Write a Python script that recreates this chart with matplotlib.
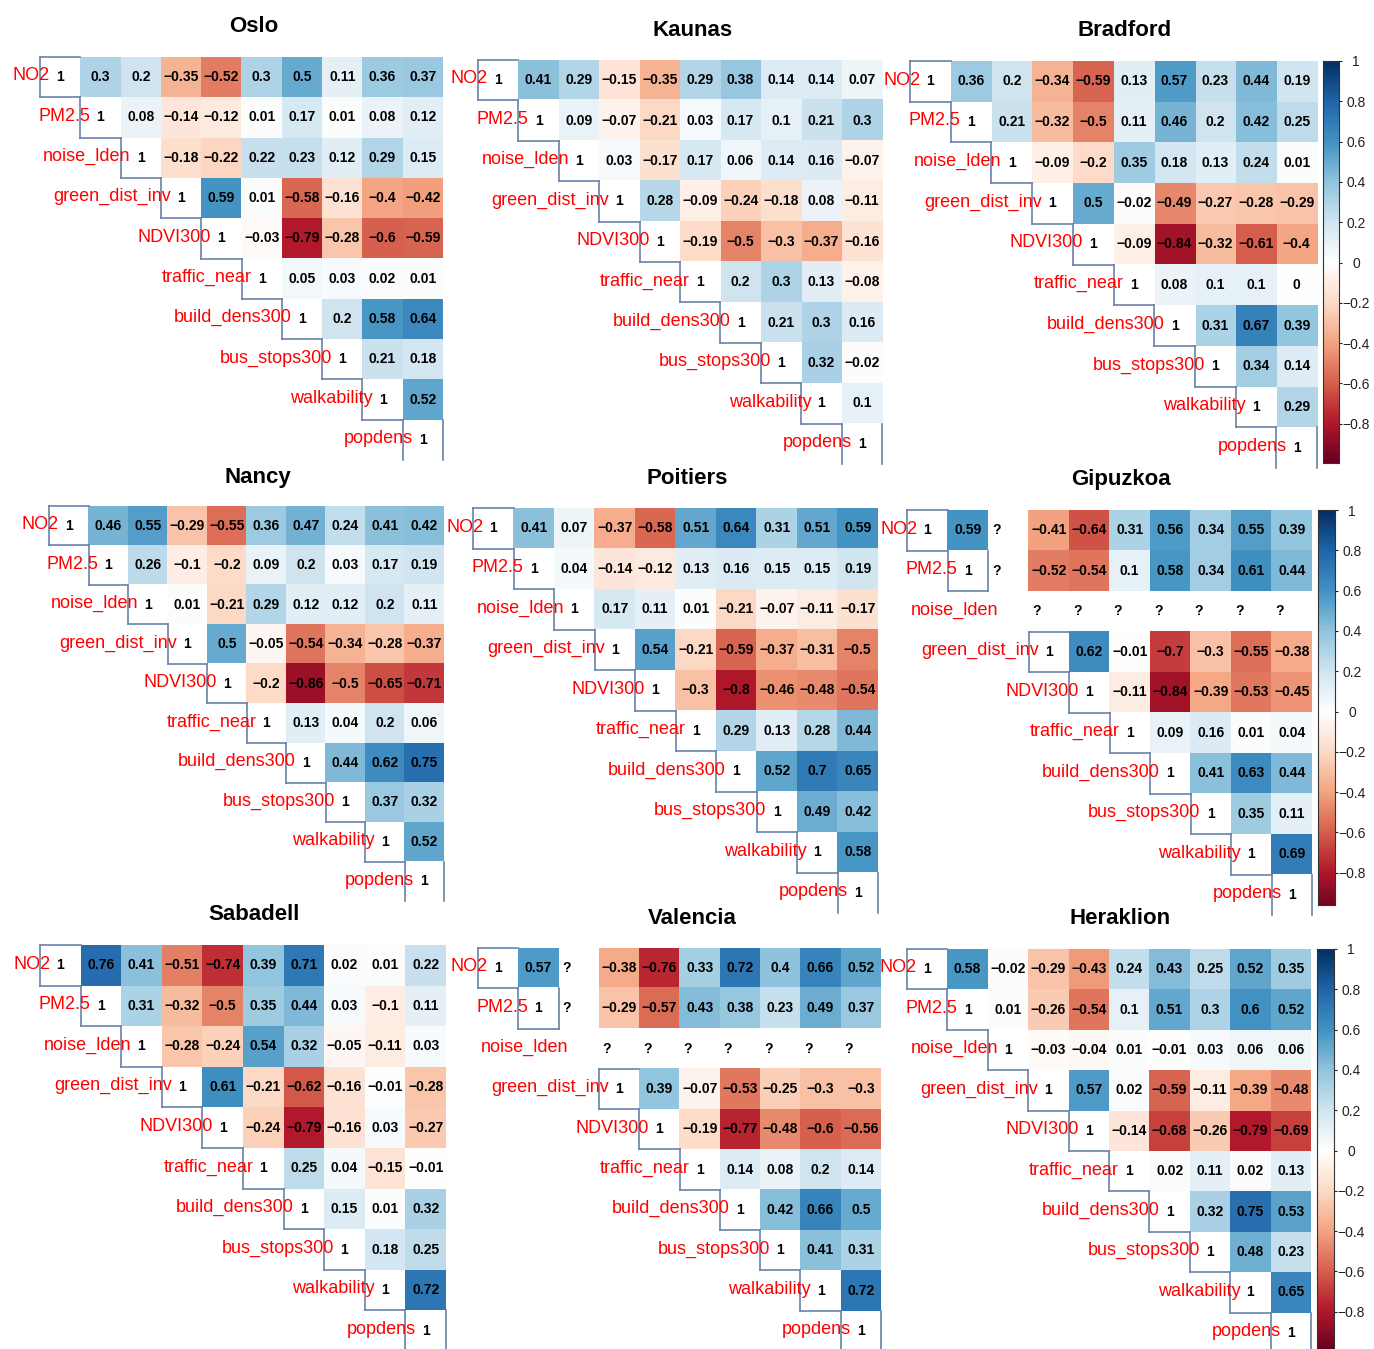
import numpy as np
import matplotlib
matplotlib.use("Agg")
import matplotlib.pyplot as plt
from matplotlib.colors import LinearSegmentedColormap

plt.rcParams["font.family"] = ["Liberation Sans", "DejaVu Sans"]

# ---------------------------------------------------------
# Data: upper triangle of each correlation matrix (row by row)
# ---------------------------------------------------------
variables = ["NO2", "PM2.5", "noise_lden", "green_dist_inv", "NDVI300",
             "traffic_near", "build_dens300", "bus_stops300", "walkability", "popdens"]
NA = np.nan

oslo = [
    [0.3, 0.2, -0.35, -0.52, 0.3, 0.5, 0.11, 0.36, 0.37],
    [0.08, -0.14, -0.12, 0.01, 0.17, 0.01, 0.08, 0.12],
    [-0.18, -0.22, 0.22, 0.23, 0.12, 0.29, 0.15],
    [0.59, 0.01, -0.58, -0.16, -0.4, -0.42],
    [-0.03, -0.79, -0.28, -0.6, -0.59],
    [0.05, 0.03, 0.02, 0.01],
    [0.2, 0.58, 0.64],
    [0.21, 0.18],
    [0.52],
]
kaunas = [
    [0.41, 0.29, -0.15, -0.35, 0.29, 0.38, 0.14, 0.14, 0.07],
    [0.09, -0.07, -0.21, 0.03, 0.17, 0.1, 0.21, 0.3],
    [0.03, -0.17, 0.17, 0.06, 0.14, 0.16, -0.07],
    [0.28, -0.09, -0.24, -0.18, 0.08, -0.11],
    [-0.19, -0.5, -0.3, -0.37, -0.16],
    [0.2, 0.3, 0.13, -0.08],
    [0.21, 0.3, 0.16],
    [0.32, -0.02],
    [0.1],
]
bradford = [
    [0.36, 0.2, -0.34, -0.59, 0.13, 0.57, 0.23, 0.44, 0.19],
    [0.21, -0.32, -0.5, 0.11, 0.46, 0.2, 0.42, 0.25],
    [-0.09, -0.2, 0.35, 0.18, 0.13, 0.24, 0.01],
    [0.5, -0.02, -0.49, -0.27, -0.28, -0.29],
    [-0.09, -0.84, -0.32, -0.61, -0.4],
    [0.08, 0.1, 0.1, 0.0],
    [0.31, 0.67, 0.39],
    [0.34, 0.14],
    [0.29],
]
nancy = [
    [0.46, 0.55, -0.29, -0.55, 0.36, 0.47, 0.24, 0.41, 0.42],
    [0.26, -0.1, -0.2, 0.09, 0.2, 0.03, 0.17, 0.19],
    [0.01, -0.21, 0.29, 0.12, 0.12, 0.2, 0.11],
    [0.5, -0.05, -0.54, -0.34, -0.28, -0.37],
    [-0.2, -0.86, -0.5, -0.65, -0.71],
    [0.13, 0.04, 0.2, 0.06],
    [0.44, 0.62, 0.75],
    [0.37, 0.32],
    [0.52],
]
poitiers = [
    [0.41, 0.07, -0.37, -0.58, 0.51, 0.64, 0.31, 0.51, 0.59],
    [0.04, -0.14, -0.12, 0.13, 0.16, 0.15, 0.15, 0.19],
    [0.17, 0.11, 0.01, -0.21, -0.07, -0.11, -0.17],
    [0.54, -0.21, -0.59, -0.37, -0.31, -0.5],
    [-0.3, -0.8, -0.46, -0.48, -0.54],
    [0.29, 0.13, 0.28, 0.44],
    [0.52, 0.7, 0.65],
    [0.49, 0.42],
    [0.58],
]
gipuzkoa = [
    [0.59, NA, -0.41, -0.64, 0.31, 0.56, 0.34, 0.55, 0.39],
    [NA, -0.52, -0.54, 0.1, 0.58, 0.34, 0.61, 0.44],
    [NA, NA, NA, NA, NA, NA, NA],
    [0.62, -0.01, -0.7, -0.3, -0.55, -0.38],
    [-0.11, -0.84, -0.39, -0.53, -0.45],
    [0.09, 0.16, 0.01, 0.04],
    [0.41, 0.63, 0.44],
    [0.35, 0.11],
    [0.69],
]
sabadell = [
    [0.76, 0.41, -0.51, -0.74, 0.39, 0.71, 0.02, 0.01, 0.22],
    [0.31, -0.32, -0.5, 0.35, 0.44, 0.03, -0.1, 0.11],
    [-0.28, -0.24, 0.54, 0.32, -0.05, -0.11, 0.03],
    [0.61, -0.21, -0.62, -0.16, -0.01, -0.28],
    [-0.24, -0.79, -0.16, 0.03, -0.27],
    [0.25, 0.04, -0.15, -0.01],
    [0.15, 0.01, 0.32],
    [0.18, 0.25],
    [0.72],
]
valencia = [
    [0.57, NA, -0.38, -0.76, 0.33, 0.72, 0.4, 0.66, 0.52],
    [NA, -0.29, -0.57, 0.43, 0.38, 0.23, 0.49, 0.37],
    [NA, NA, NA, NA, NA, NA, NA],
    [0.39, -0.07, -0.53, -0.25, -0.3, -0.3],
    [-0.19, -0.77, -0.48, -0.6, -0.56],
    [0.14, 0.08, 0.2, 0.14],
    [0.42, 0.66, 0.5],
    [0.41, 0.31],
    [0.72],
]
heraklion = [
    [0.58, -0.02, -0.29, -0.43, 0.24, 0.43, 0.25, 0.52, 0.35],
    [0.01, -0.26, -0.54, 0.1, 0.51, 0.3, 0.6, 0.52],
    [-0.03, -0.04, 0.01, -0.01, 0.03, 0.06, 0.06],
    [0.57, 0.02, -0.59, -0.11, -0.39, -0.48],
    [-0.14, -0.68, -0.26, -0.79, -0.69],
    [0.02, 0.11, 0.02, 0.13],
    [0.32, 0.75, 0.53],
    [0.48, 0.23],
    [0.65],
]

cities = ["Oslo", "Kaunas", "Bradford", "Nancy", "Poitiers", "Gipuzkoa",
          "Sabadell", "Valencia", "Heraklion"]
city_rows = [oslo, kaunas, bradford, nancy, poitiers, gipuzkoa,
             sabadell, valencia, heraklion]
city_na = {"Gipuzkoa": ["noise_lden"], "Valencia": ["noise_lden"]}
cbar_ticks = [1, 0.8, 0.6, 0.4, 0.2, 0, -0.2, -0.4, -0.6, -0.8]

# ---------------------------------------------------------
# Layout (pixels): grid left, grid top, cell size, title x, title y
# ---------------------------------------------------------
W, H = 1374, 1349
layout = [
    (40, 57, 40.3, 254, 26),
    (478, 60, 40.4, 693, 30),
    (910, 61, 40.7, 1125, 30),
    (49, 506, 39.5, 258, 477),
    (473, 508, 40.5, 687, 478),
    (907, 510, 40.5, 1121, 479),
    (40, 945, 40.6, 254, 914),
    (478, 948, 40.3, 692, 918),
    (907, 949, 40.4, 1120, 919),
]
# colorbars: left, top, width, full height (-1..1), visible bottom
cbars = [(1323, 61, 16, 403, 463), (1318, 510, 17, 403, 905), (1317, 949, 17, 403, 1349)]

cmap = LinearSegmentedColormap.from_list(
    "corrRdBu",
    ["#67001F", "#B2182B", "#D6604D", "#F4A582", "#FDDBC7", "#FFFFFF",
     "#D1E5F0", "#92C5DE", "#4393C3", "#2166AC", "#053061"], N=200)
cmap.set_bad((1, 1, 1, 0))

LINE_COL = "#6A82A8"


def px_rect(l, t, w, h):
    return [l / W, 1 - (t + h) / H, w / W, h / H]


def fmt(v):
    s = f"{v:.2f}".rstrip("0").rstrip(".")
    if s in ("-0", ""):
        s = "0"
    return s.replace("-", "\u2212")


def build_matrix(rows, na_vars):
    n = len(variables)
    m = np.full((n, n), np.nan)
    for i, r in enumerate(rows):
        m[i, i + 1:] = r
    for i in range(n):
        m[i, i] = 1.0
    for v in na_vars:
        k = variables.index(v)
        m[k, k] = np.nan
    return m


# ---------------------------------------------------------
# One correlation panel
# ---------------------------------------------------------
def draw_panel(fig, name, m, lay):
    left, top, cell, tx, ty = lay
    n = len(variables)
    ax = fig.add_axes(px_rect(left, top, cell * n, cell * n))
    ax.set_xlim(0, n)
    ax.set_ylim(n, 0)
    ax.axis("off")

    upper = np.full_like(m, np.nan)
    for i in range(n):
        upper[i, i + 1:] = m[i, i + 1:]
    ax.imshow(np.ma.masked_invalid(upper), cmap=cmap, vmin=-1, vmax=1,
              extent=[0, n, n, 0], interpolation="nearest", aspect="auto")

    for i in range(n):
        for j in range(i + 1, n):
            v = m[i, j]
            if np.isnan(v):
                ax.text(j + 0.2, i + 0.5, "?", ha="center", va="center",
                        fontsize=10, fontweight="bold", clip_on=True)
            else:
                ax.text(j + 0.5, i + 0.5, fmt(v), ha="center", va="center",
                        fontsize=10, fontweight="bold", clip_on=True)

    for i, lab in enumerate(variables):
        ax.text(i + 0.25, i + 0.47, lab, ha="right", va="center",
                color="red", fontsize=13, clip_on=False)
        if np.isnan(m[i, i]):
            continue
        ax.text(i + 0.5, i + 0.5, "1", ha="center", va="center",
                fontsize=10, fontweight="bold", clip_on=False)
        # staircase border around the diagonal cell
        segs = [([i, i], [i, i + 1])]
        if i < n - 1:
            segs.append(([i, i + 1], [i + 1, i + 1]))
        if i == 0 or np.isnan(m[i - 1, i]):
            segs.append(([i, i + 1], [i, i]))
        if i == n - 1 or np.isnan(m[i, i + 1]):
            segs.append(([i + 1, i + 1], [i, i + 1]))
        for xs, ys in segs:
            ax.plot(xs, ys, color=LINE_COL, lw=1.2, clip_on=False,
                    solid_capstyle="projecting")

    fig.text(tx / W, 1 - ty / H, name, ha="center", va="center",
             fontsize=16, fontweight="bold")


# ---------------------------------------------------------
# Colour legend
# ---------------------------------------------------------
def draw_colorbar(fig, cb):
    x, top, w, hfull, bottom = cb
    cax = fig.add_axes(px_rect(x, top, w, bottom - top))
    grad = np.linspace(-1, 1, 256).reshape(-1, 1)
    cax.imshow(grad, cmap=cmap, vmin=-1, vmax=1, aspect="auto",
               extent=[0, 1, -1, 1], origin="lower")
    lo = 1 - 2 * (bottom - top) / hfull
    cax.set_xlim(0, 1)
    cax.set_ylim(lo, 1)
    cax.set_xticks([])
    cax.yaxis.tick_right()
    cax.set_yticks(cbar_ticks)
    cax.set_yticklabels([fmt(t) for t in cbar_ticks], ha="center")
    cax.tick_params(axis="y", length=2.2, width=0.8, pad=10,
                    labelsize=10, colors="#222222")
    for sp in cax.spines.values():
        sp.set_linewidth(0.8)
        sp.set_color("#333333")


if __name__ == "__main__":
    fig = plt.figure(figsize=(W / 100, H / 100), dpi=100)
    for name, rows, lay in zip(cities, city_rows, layout):
        m = build_matrix(rows, city_na.get(name, []))
        draw_panel(fig, name, m, lay)
    for cb in cbars:
        draw_colorbar(fig, cb)
    fig.savefig("out.png", dpi=100)
